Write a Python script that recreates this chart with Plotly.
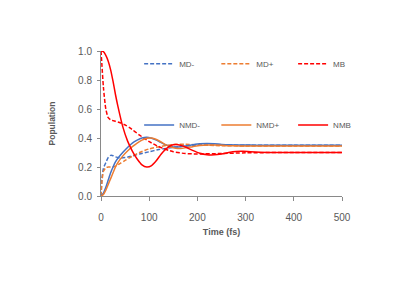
import plotly.graph_objects as go

t_md = [0, 2, 5, 10, 15, 20, 25, 30, 40, 50, 60, 80, 100, 120, 150, 175, 200, 250, 300, 400, 500]
md_minus = [0.0, 0.12, 0.19, 0.23, 0.265, 0.28, 0.278, 0.27, 0.262, 0.265, 0.272, 0.29, 0.305, 0.32, 0.335, 0.345, 0.352, 0.352, 0.35, 0.35, 0.35]
md_plus = [0.0, 0.1, 0.17, 0.195, 0.2, 0.2, 0.202, 0.205, 0.225, 0.245, 0.265, 0.3, 0.325, 0.34, 0.355, 0.357, 0.352, 0.347, 0.345, 0.345, 0.345]
mb = [1.0, 0.9, 0.75, 0.6, 0.54, 0.525, 0.52, 0.515, 0.505, 0.49, 0.47, 0.42, 0.375, 0.34, 0.305, 0.293, 0.29, 0.293, 0.298, 0.3, 0.3]

t_nm = [0, 5, 10, 15, 20, 25, 30, 35, 45, 55, 65, 75, 85, 95, 105, 115, 125, 135, 145, 155, 165, 175, 190, 205, 220, 235, 250, 265, 280, 295, 310, 330, 360, 400, 450, 500]
nmd_minus = [0.0, 0.02, 0.06, 0.11, 0.16, 0.2, 0.235, 0.26, 0.3, 0.335, 0.365, 0.385, 0.4, 0.405, 0.398, 0.385, 0.368, 0.352, 0.342, 0.338, 0.34, 0.345, 0.353, 0.36, 0.362, 0.36, 0.356, 0.353, 0.352, 0.352, 0.351, 0.35, 0.35, 0.35, 0.35, 0.35]
nmd_plus = [0.0, 0.01, 0.04, 0.08, 0.12, 0.16, 0.2, 0.23, 0.275, 0.31, 0.34, 0.365, 0.385, 0.398, 0.4, 0.39, 0.372, 0.353, 0.338, 0.33, 0.328, 0.332, 0.34, 0.348, 0.352, 0.352, 0.35, 0.347, 0.346, 0.345, 0.345, 0.345, 0.345, 0.345, 0.345, 0.345]
nmb = [1.0, 0.995, 0.97, 0.93, 0.87, 0.79, 0.7, 0.62, 0.48, 0.38, 0.31, 0.255, 0.215, 0.2, 0.21, 0.245, 0.29, 0.325, 0.348, 0.355, 0.35, 0.338, 0.315, 0.295, 0.285, 0.284, 0.29, 0.3, 0.307, 0.308, 0.305, 0.302, 0.3, 0.3, 0.3, 0.3]

BLUE = "#4472C4"
ORANGE = "#ED7D31"
RED = "#FF0000"
DASH = "4px,2px"
FONT = "Liberation Sans, Arial, sans-serif"

series = [
    ("MD-", t_md, md_minus, BLUE, DASH),
    ("MD+", t_md, md_plus, ORANGE, DASH),
    ("MB", t_md, mb, RED, DASH),
    ("NMD-", t_nm, nmd_minus, BLUE, "solid"),
    ("NMD+", t_nm, nmd_plus, ORANGE, "solid"),
    ("NMB", t_nm, nmb, RED, "solid"),
]
leg_x = [0.316, 0.502, 0.687]
leg_y = [0.81, 0.602]

fig = go.Figure()
legends = {}
for i, (name, tx, y, c, dash) in enumerate(series):
    key = "legend" if i == 0 else f"legend{i+1}"
    fig.add_trace(go.Scatter(x=tx, y=y, name=name, mode="lines",
                             line=dict(color=c, width=1.5, dash=dash, shape="spline", smoothing=0.6),
                             legend=key))
    legends[key] = dict(orientation="h", xref="container", yref="container", xanchor="left", yanchor="middle",
                        x=leg_x[i % 3], y=leg_y[i // 3], bgcolor="rgba(0,0,0,0)",
                        font=dict(family=FONT, size=8, color="#595959"), itemwidth=30)

fig.update_layout(
    width=415, height=294,
    margin=dict(l=93, r=81, t=43, b=106, autoexpand=False),
    paper_bgcolor="white", plot_bgcolor="white",
    showlegend=True,
    **legends,
    xaxis=dict(range=[0, 500], tickvals=[0, 100, 200, 300, 400, 500], showgrid=False, zeroline=False,
               showline=True, linecolor="#898989", linewidth=1, ticks="outside", ticklen=4, tickcolor="#898989",
               ticklabelstandoff=8,
               tickfont=dict(family=FONT, size=10, color="#595959"),
               title=dict(text="<b>Time (fs)</b>", font=dict(family=FONT, size=9, color="#595959"), standoff=6)),
    yaxis=dict(range=[0, 1.0], tickvals=[0, 0.2, 0.4, 0.6, 0.8, 1.0], tickformat=".1f", showgrid=False, zeroline=False,
               showline=True, linecolor="#898989", linewidth=1, ticks="outside", ticklen=3, tickcolor="#898989",
               ticklabelstandoff=3,
               tickfont=dict(family=FONT, size=10, color="#595959"),
               title=dict(text="<b>Population</b>", font=dict(family=FONT, size=8.5, color="#595959"), standoff=21)),
)
fig.write_html("out.html")
